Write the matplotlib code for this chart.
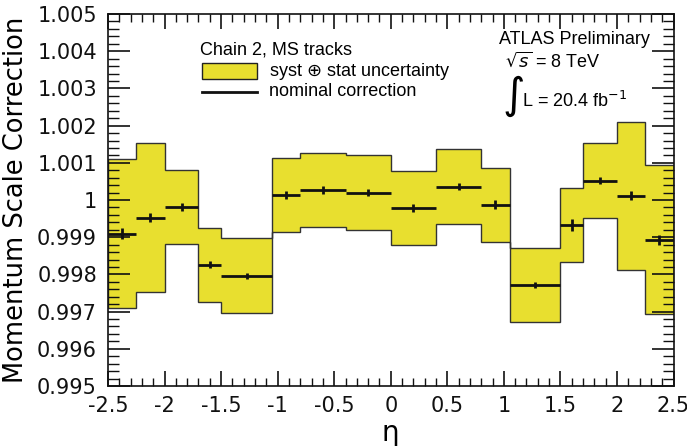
import numpy as np
import matplotlib
matplotlib.use('Agg')
import matplotlib.pyplot as plt
from matplotlib.patches import Rectangle
from matplotlib.lines import Line2D
from matplotlib.ticker import MultipleLocator

# eta binning and the correction per bin
eta_edges = [-2.5, -2.25, -2.0, -1.7, -1.5, -1.05, -0.8, -0.4, 0.0,
             0.4, 0.8, 1.05, 1.5, 1.7, 2.0, 2.25, 2.5]
nominal = [0.99909, 0.99952, 0.99981, 0.99826, 0.99797, 1.00014, 1.00027, 1.00020,
           0.99979, 1.00036, 0.99987, 0.99772, 0.99933, 1.00052, 1.00011, 0.99893]
total_unc = [0.0020, 0.0020, 0.0010, 0.0010, 0.0010, 0.0010, 0.0010, 0.0010,
             0.0010, 0.0010, 0.0010, 0.0010, 0.0010, 0.0010, 0.0020, 0.0020]
stat_unc = [0.00015, 0.00012, 0.00010, 0.00010, 0.00008, 0.00010, 0.00010, 0.00010,
            0.00010, 0.00010, 0.00012, 0.00008, 0.00015, 0.00010, 0.00012, 0.00013]

edges = np.array(eta_edges)
nom = np.array(nominal)
unc = np.array(total_unc)
stat = np.array(stat_unc)
centers = 0.5 * (edges[:-1] + edges[1:])

yellow = '#e8df2f'
txt_font = ['Liberation Sans', 'DejaVu Sans']

fig = plt.figure(figsize=(6.87, 4.46), dpi=100)
ax = fig.add_axes([0.1572, 0.1345, 0.8232, 0.834])

# uncertainty band
ax.stairs(nom + unc, edges, baseline=nom - unc, fill=True,
          facecolor=yellow, edgecolor='#333333', linewidth=1.0)
# nominal correction
ax.hlines(nom, edges[:-1], edges[1:], color='#111111', linewidth=2)
ax.vlines(centers, nom - stat, nom + stat, color='#111111', linewidth=2)

ax.set_xlim(-2.5, 2.5)
ax.set_ylim(0.995, 1.005)
ax.xaxis.set_major_locator(MultipleLocator(0.5))
ax.xaxis.set_minor_locator(MultipleLocator(0.1))
ax.yaxis.set_major_locator(MultipleLocator(0.001))
ax.yaxis.set_minor_locator(MultipleLocator(0.0002))
ax.set_xticks(np.arange(-2.5, 2.51, 0.5))
ax.set_xticklabels(['-2.5', '-2', '-1.5', '-1', '-0.5', '0', '0.5', '1', '1.5', '2', '2.5'])
ax.set_yticks(np.arange(0.995, 1.0051, 0.001))
ax.set_yticklabels(['0.995', '0.996', '0.997', '0.998', '0.999', '1',
                    '1.001', '1.002', '1.003', '1.004', '1.005'])

ax.tick_params(axis='both', which='both', direction='in', top=True, right=True,
               labelsize=15, colors='#111111')
ax.tick_params(axis='x', which='major', length=11, width=1.2, pad=7)
ax.tick_params(axis='x', which='minor', length=6, width=1)
ax.tick_params(axis='y', which='major', length=16, width=1.2, pad=8)
ax.tick_params(axis='y', which='minor', length=8, width=1)
for s in ax.spines.values():
    s.set_linewidth(1.2)
    s.set_color('#111111')

ax.set_ylabel('Momentum Scale Correction', fontsize=18.5, labelpad=6)
ax.set_xlabel('η', fontsize=20, labelpad=2)

# legend
fig.text(200 / 687, 1 - 50 / 446, 'Chain 2, MS tracks', fontsize=13,
         family=txt_font, va='center', ha='left')
fig.add_artist(Rectangle((202 / 687, 1 - 78.5 / 446), 55 / 687, 16 / 446,
                         transform=fig.transFigure, facecolor=yellow,
                         edgecolor='#222222', linewidth=1))
fig.text(269 / 687, 1 - 71 / 446, 'syst $\\oplus$ stat uncertainty', fontsize=13,
         family=txt_font, va='center', ha='left')
fig.add_artist(Line2D([202 / 687, 257 / 687], [1 - 91.5 / 446, 1 - 91.5 / 446],
                      transform=fig.transFigure, color='#111111', linewidth=2))
fig.text(269 / 687, 1 - 92 / 446, 'nominal correction', fontsize=13,
         family=txt_font, va='center', ha='left')

# experiment labels
fig.text(499 / 687, 1 - 39 / 446, 'ATLAS Preliminary', fontsize=13,
         family=txt_font, va='center', ha='left')
fig.text(505 / 687, 1 - 61 / 446, '$\\sqrt{s}$ = 8 TeV', fontsize=13,
         family=txt_font, va='center', ha='left')
fig.text(502 / 687, 1 - 96 / 446, '∫', fontsize=31,
         family=['DejaVu Sans'], va='center', ha='left')
fig.text(522 / 687, 1 - 101 / 446, 'L = 20.4 fb$^{-1}$', fontsize=13,
         family=txt_font, va='center', ha='left')

fig.savefig('out.png', dpi=100)
